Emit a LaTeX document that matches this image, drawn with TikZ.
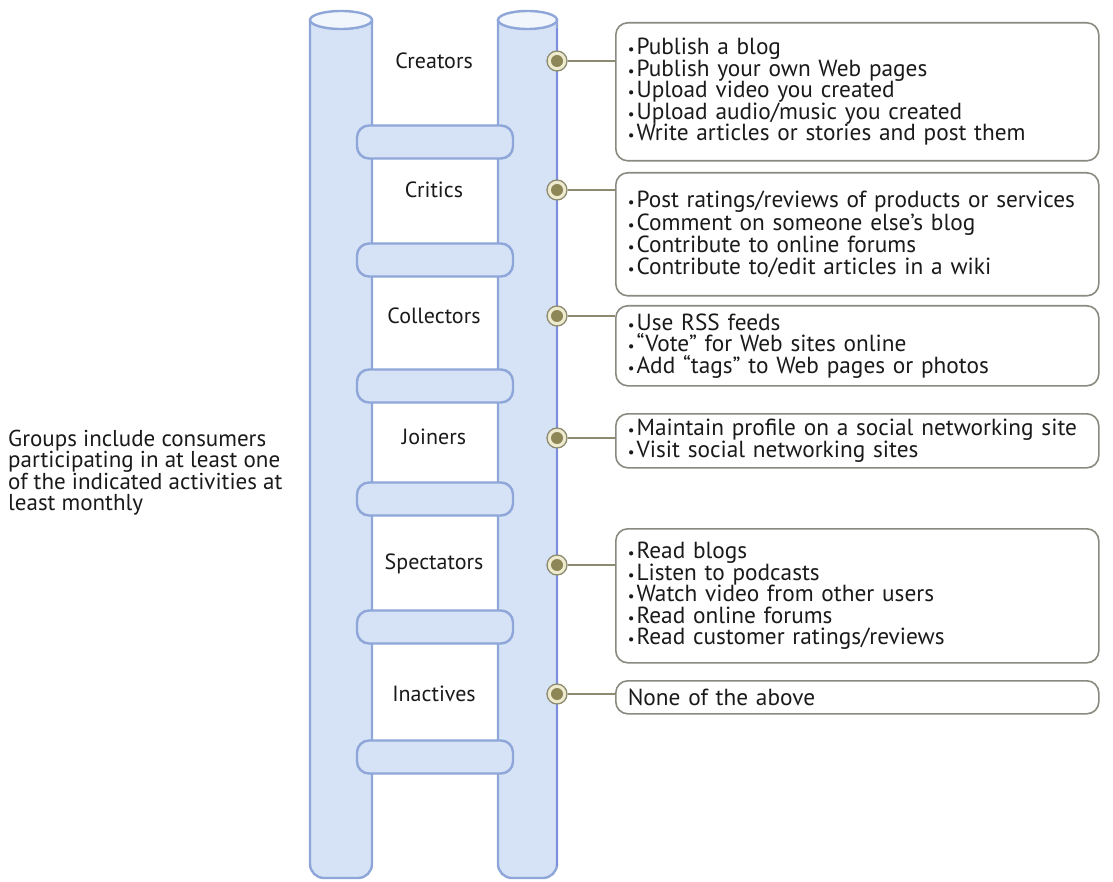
\documentclass[tikz,border=0pt]{standalone}
\usepackage{fontspec}
\setmainfont{PT Sans}
\definecolor{pfill}{HTML}{D6E3F6}
\definecolor{ptop}{HTML}{F1F5FC}
\definecolor{pline}{HTML}{8EA6D8}
\definecolor{pedge}{HTML}{7D8DE0}
\definecolor{dotin}{HTML}{8D8758}
\definecolor{dotring}{HTML}{EFEBCF}
\definecolor{conncol}{HTML}{8C8B70}
\definecolor{boxline}{HTML}{8A8A80}
\definecolor{txt}{HTML}{1A1A1A}
\newcommand\bul{{\fontsize{15}{15}\selectfont •}\hspace{2pt}}
\begin{document}
\begin{tikzpicture}[x=1pt,y=-1pt,
  pillar/.style={fill=pfill, draw=pline, line width=2.4pt},
  pilltop/.style={fill=ptop, draw=pline, line width=2.4pt},
  rung/.style={fill=pfill, draw=pline, line width=2.4pt, rounded corners=12pt},
  lab/.style={font=\fontsize{22}{22}\selectfont, text=txt},
  dotnode/.style={circle, minimum size=20pt, inner sep=0pt, fill=dotring, draw=conncol, line width=1.3pt,
    path picture={\fill[dotin] (path picture bounding box.center) circle (6pt);}},
  conn/.style={draw=conncol, line width=1.8pt},
  infobox/.style={draw=boxline, line width=1.6pt, rounded corners=12pt, fill=white,
    anchor=north west, text width=459pt, inner xsep=12pt, inner ysep=0pt, align=left,
    font=\fontsize{23.3}{21.5}\selectfont, text=txt},
  side/.style={anchor=north west, align=left, inner sep=0pt, font=\fontsize{23}{21}\selectfont, text=txt}
]
\useasboundingbox (0,0) rectangle (1113,882);
\fill[white] (0,0) rectangle (1113,882);
% pillars
\path[pillar] (310,20) {[rounded corners=14pt] -- (310,878) -- (372,878)} -- (372,20);
\draw[pilltop] (341,20) ellipse (31pt and 9pt);
\path[pillar] (498,20) {[rounded corners=14pt] -- (498,878) -- (557,878)} -- (557,20);
\draw[pilltop] (527.5,20) ellipse (29.5pt and 9pt);
\draw[pedge, line width=2.4pt] (557,28) -- (557,866);
% rungs
\foreach \c in {142,260,386,499,627,757}{
  \draw[rung] (357,\c-16.5) rectangle (513,\c+16.5);
}
% labels
\node[lab] (l1) at (434,61) {Creators};
\node[lab] (l2) at (434,190) {Critics};
\node[lab] (l3) at (434,316) {Collectors};
\node[lab] (l4) at (434,437) {Joiners};
\node[lab] (l5) at (434,564) {Spectators};
\node[lab] (l6) at (434,694) {Inactives};
% boxes
\node[infobox, minimum height=138pt] (b1) at (615,22) {\bul Publish a blog\\\bul Publish your own Web pages\\\bul Upload video you created\\\bul Upload audio/music you created\\\bul Write articles or stories and post them};
\node[infobox, minimum height=123pt] (b2) at (615,172) {\bul Post ratings/reviews of products or services\\\bul Comment on someone else’s blog\\\bul Contribute to online forums\\\bul Contribute to/edit articles in a wiki};
\node[infobox, minimum height=80pt] (b3) at (615,305) {\bul Use RSS feeds\\\bul “Vote” for Web sites online\\\bul Add “tags” to Web pages or photos};
\node[infobox, minimum height=54pt] (b4) at (615,413) {\bul Maintain profile on a social networking site\\\bul Visit social networking sites};
\node[infobox, minimum height=134pt] (b5) at (615,528) {\bul Read blogs\\\bul Listen to podcasts\\\bul Watch video from other users\\\bul Read online forums\\\bul Read customer ratings/reviews};
\node[infobox, minimum height=33pt] (b6) at (615,680) {None of the above};
% dots and connectors
\foreach \i/\y in {1/61,2/190,3/316,4/438,5/565,6/694}{
  \node[dotnode] (d\i) at (557,\y) {};
  \draw[conn] (d\i.east) -- (d\i.east -| b\i.west);
}
% side note
\node[side] (note) at (8,430) {Groups include consumers\\participating in at least one\\of the indicated activities at\\least monthly};
\end{tikzpicture}
\end{document}
